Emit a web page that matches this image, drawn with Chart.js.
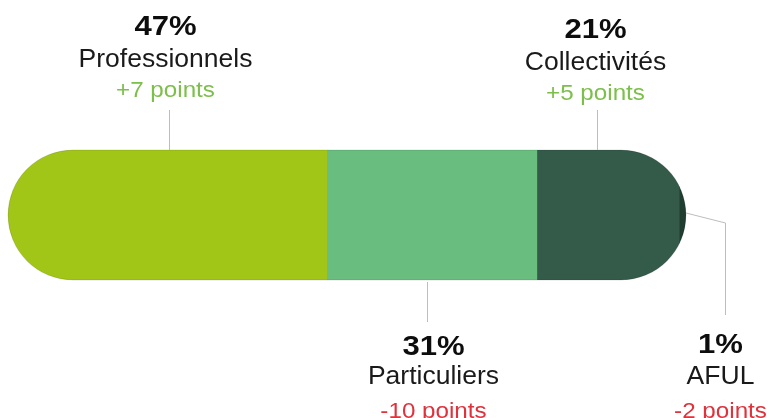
<!DOCTYPE html>
<html>
<head>
<meta charset="utf-8">
<script src="https://cdn.jsdelivr.net/npm/chart.js@4"></script>
<style>
  html, body { margin: 0; padding: 0; background: #fff; }
  #wrap { width: 776px; height: 418px; }
</style>
</head>
<body>
<div id="wrap"><canvas id="chart"></canvas></div>
<script>
var categories = ["Professionnels", "Particuliers", "Collectivités", "AFUL"];
var shares = [47, 31, 21, 1];          // % of total
var changes = [7, -10, 5, -2];         // change in points
var segColors = ["#a2c617", "#69bd7f", "#345b4a", "#1f3d30"];

// where each callout goes, relative to its segment
var callouts = [
    {side: "top", dx: 2, tdx: -4, by: 35},
    {side: "bottom", dx: -5, tdx: 6, by: 355},
    {side: "top", dx: -11, tdx: -2, by: 38},
    {side: "elbow", ex: 725, tdx: -5, by: 353}
];

function pointsText(v) {
    return (v > 0 ? "+" : "") + v + " points";
}

function drawText(ctx, txt, x, y, font, color, sx) {
    ctx.save();
    ctx.translate(x, y);
    ctx.scale(sx, 1);
    ctx.font = font;
    ctx.fillStyle = color;
    ctx.textAlign = "center";
    ctx.textBaseline = "alphabetic";
    ctx.fillText(txt, 0, 0);
    ctx.restore();
}

function barBox(chart) {
    let el = chart.getDatasetMeta(0).data[0];
    let xs = chart.scales.x;
    let total = shares.reduce((a, b) => a + b, 0);
    return {
        x0: xs.getPixelForValue(0),
        x1: xs.getPixelForValue(total),
        top: el.y - el.height / 2,
        h: el.height
    };
}

// clip the stack into a pill shape
var pillClip = {
    id: "pillClip",
    beforeDatasetsDraw(chart) {
        let b = barBox(chart);
        let ctx = chart.ctx;
        ctx.save();
        ctx.beginPath();
        ctx.roundRect(b.x0, b.top, b.x1 - b.x0, b.h, b.h / 2);
        ctx.clip();
    },
    afterDatasetsDraw(chart) {
        let b = barBox(chart);
        let ctx = chart.ctx;
        ctx.restore();
        ctx.save();
        ctx.beginPath();
        ctx.roundRect(b.x0, b.top, b.x1 - b.x0, b.h, b.h / 2);
        ctx.strokeStyle = "rgba(0,0,0,0.12)";
        ctx.lineWidth = 1;
        ctx.stroke();
        ctx.restore();
    }
};

var callout = {
    id: "callout",
    afterDraw(chart) {
        let ctx = chart.ctx;
        let xs = chart.scales.x;
        let b = barBox(chart);
        let bottom = b.top + b.h;
        let cum = 0;
        for (let i = 0; i < shares.length; i++) {
            let c = callouts[i];
            let mid = xs.getPixelForValue(cum + shares[i] / 2);
            let right = xs.getPixelForValue(cum + shares[i]);
            cum += shares[i];
            let lx, offs;
            ctx.save();
            ctx.strokeStyle = "#bdbdbd";
            ctx.lineWidth = 1;
            ctx.beginPath();
            if (c.side == "top") {
                lx = Math.round(mid + c.dx) + 0.5;
                ctx.moveTo(lx, b.top - 40);
                ctx.lineTo(lx, b.top);
                offs = [0, 32, 62];
            } else if (c.side == "bottom") {
                lx = Math.round(mid + c.dx) + 0.5;
                ctx.moveTo(lx, bottom + 2);
                ctx.lineTo(lx, bottom + 42);
                offs = [0, 29, 63];
            } else {
                lx = c.ex + 0.5;
                let sy = b.top + b.h / 2 - 2;
                ctx.moveTo(right, sy);
                ctx.lineTo(lx, sy + 10);
                ctx.lineTo(lx, bottom + 35);
                offs = [0, 31, 65];
            }
            ctx.stroke();
            ctx.restore();

            let tx = lx + c.tdx;
            let pColor = changes[i] > 0 ? "#7cbf4a" : "#e0323c";
            drawText(ctx, shares[i] + "%", tx, c.by + offs[0], "bold 27px 'Liberation Sans'", "#0d0d0d", 1.15);
            drawText(ctx, categories[i], tx, c.by + offs[1], "26px 'Liberation Sans'", "#1a1a1a", 1.02);
            drawText(ctx, pointsText(changes[i]), tx, c.by + offs[2], "22px 'Liberation Sans'", pColor, 1.1);
        }
    }
};

var ctx = document.getElementById("chart").getContext("2d");

var config = {
    type: "bar",
    data: {
        labels: ["Répartition"],
        datasets: categories.map((name, i) => ({
            label: name,
            data: [shares[i]],
            backgroundColor: segColors[i],
            borderWidth: 0,
            barPercentage: 1,
            categoryPercentage: 1
        }))
    },
    options: {
        indexAxis: "y",
        responsive: true,
        maintainAspectRatio: false,
        animation: false,
        layout: {padding: {left: 8, right: 90, top: 150, bottom: 138}},
        scales: {
            x: {stacked: true, min: 0, max: 100, display: false},
            y: {stacked: true, display: false}
        },
        plugins: {
            legend: {display: false},
            tooltip: {enabled: false}
        }
    },
    plugins: [pillClip, callout]
};

var myChart = new Chart(ctx, config);
</script>
</body>
</html>
